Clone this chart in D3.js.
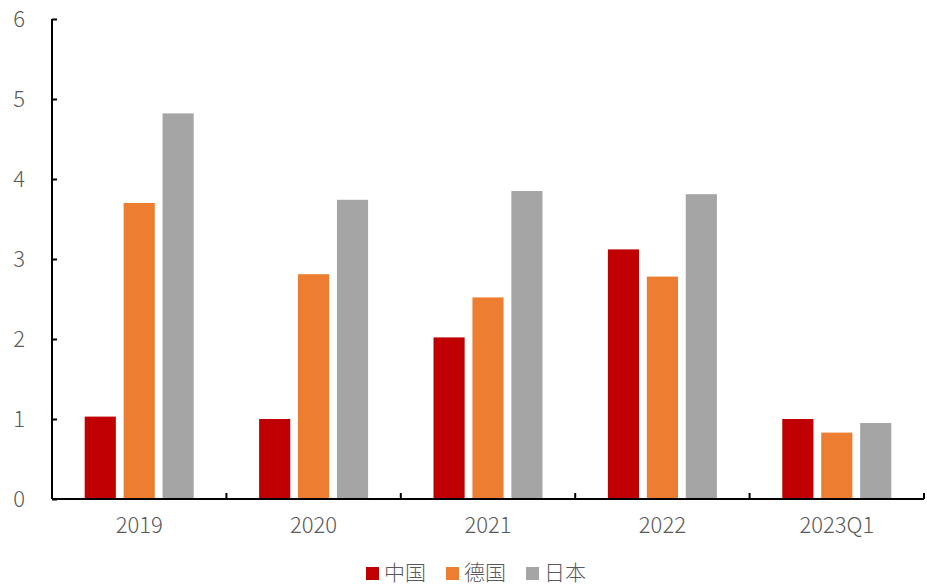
<!DOCTYPE html>
<html>
<head>
<meta charset="utf-8">
<script src="https://cdn.jsdelivr.net/npm/d3@7"></script>
<style>
  body { margin: 0; background: #fff; }
  text { font-family: "Noto Sans CJK SC", "Noto Sans", sans-serif; font-weight: 300; fill: #595959; }
</style>
</head>
<body>
<div id="chart"></div>
<script>
const w = 927;
const h = 586;

const m = {
  top: 19,
  right: 3,
  bottom: 87,
  left: 52 };

// data
const categories = ["2019", "2020", "2021", "2022", "2023Q1"];
const seriesNames = ["中国", "德国", "日本"];
const china = [1.03, 1.00, 2.02, 3.12, 1.00];
const germany = [3.70, 2.81, 2.52, 2.78, 0.83];
const japan = [4.82, 3.74, 3.85, 3.81, 0.95];
const yTicks = [0, 1, 2, 3, 4, 5, 6];

const colors = ["#C00000", "#ED7D31", "#A5A5A5"];

const values = [china, germany, japan];

const svg = d3.select("#chart").
append("svg").
attr("width", w).
attr("height", h);

// scales
const x0 = d3.scaleBand().
domain(categories).
range([m.left, w - m.right]).
padding(0);

const x1 = d3.scaleBand().
domain(seriesNames).
range([0, x0.bandwidth()]).
paddingInner(0.2).
paddingOuter(0.84);

const y = d3.scaleLinear().
domain([0, 6]).
range([h - m.bottom, m.top]);

// bars
const groups = svg.append("g").
selectAll("g").
data(categories).
enter().
append("g").
attr("transform", d => "translate(" + x0(d) + ",0)");

groups.selectAll("rect").
data((d, i) => seriesNames.map((s, j) => ({ s: s, v: values[j][i], c: colors[j] }))).
enter().
append("rect").
attr("x", d => x1(d.s)).
attr("y", d => y(d.v)).
attr("width", x1.bandwidth()).
attr("height", d => y(0) - y(d.v)).
attr("fill", d => d.c);

// y axis
const yAxis = d3.axisLeft(y).
tickValues(yTicks).
tickSize(-5).
tickPadding(30).
tickFormat(d3.format("d"));

const gy = svg.append("g").
attr("transform", "translate(" + m.left + ",0)").
call(yAxis);

gy.select(".domain").attr("stroke", "#000").attr("stroke-width", 2).attr("d", "M0," + (y(6)) + "V" + y(0));
gy.selectAll(".tick line").attr("stroke", "#000").attr("stroke-width", 2);
gy.selectAll(".tick text").
style("font-size", "22px").
attr("fill", "#595959").
attr("text-anchor", "end").
attr("x", -27);

// x axis
const boundaries = categories.map(c => x0(c)).concat([x0.range()[1]]);

const gx = svg.append("g");

gx.append("line").
attr("x1", x0.range()[0]).
attr("x2", x0.range()[1]).
attr("y1", y(0)).
attr("y2", y(0)).
attr("stroke", "#000").
attr("stroke-width", 2);

gx.selectAll(".xtick").
data(boundaries.slice(1)).
enter().
append("line").
attr("class", "xtick").
attr("x1", d => d).
attr("x2", d => d).
attr("y1", y(0)).
attr("y2", y(0) - 6).
attr("stroke", "#000").
attr("stroke-width", 2);

gx.selectAll(".xlabel").
data(categories).
enter().
append("text").
attr("class", "xlabel").
attr("x", d => x0(d) + x0.bandwidth() / 2).
attr("y", y(0) + 34).
attr("text-anchor", "middle").
style("font-size", "22px").
text(d => d);

// legend
const legend = svg.append("g");

let lx = 366;
seriesNames.forEach(function (s, i) {
  legend.append("rect").
  attr("x", lx).
  attr("y", 567).
  attr("width", 13).
  attr("height", 13).
  attr("fill", colors[i]);
  const t = legend.append("text").
  attr("x", lx + 18).
  attr("y", 580).
  style("font-size", "21px").
  text(s);
  lx += 18 + t.node().getComputedTextLength() + 20;
});
</script>
</body>
</html>
